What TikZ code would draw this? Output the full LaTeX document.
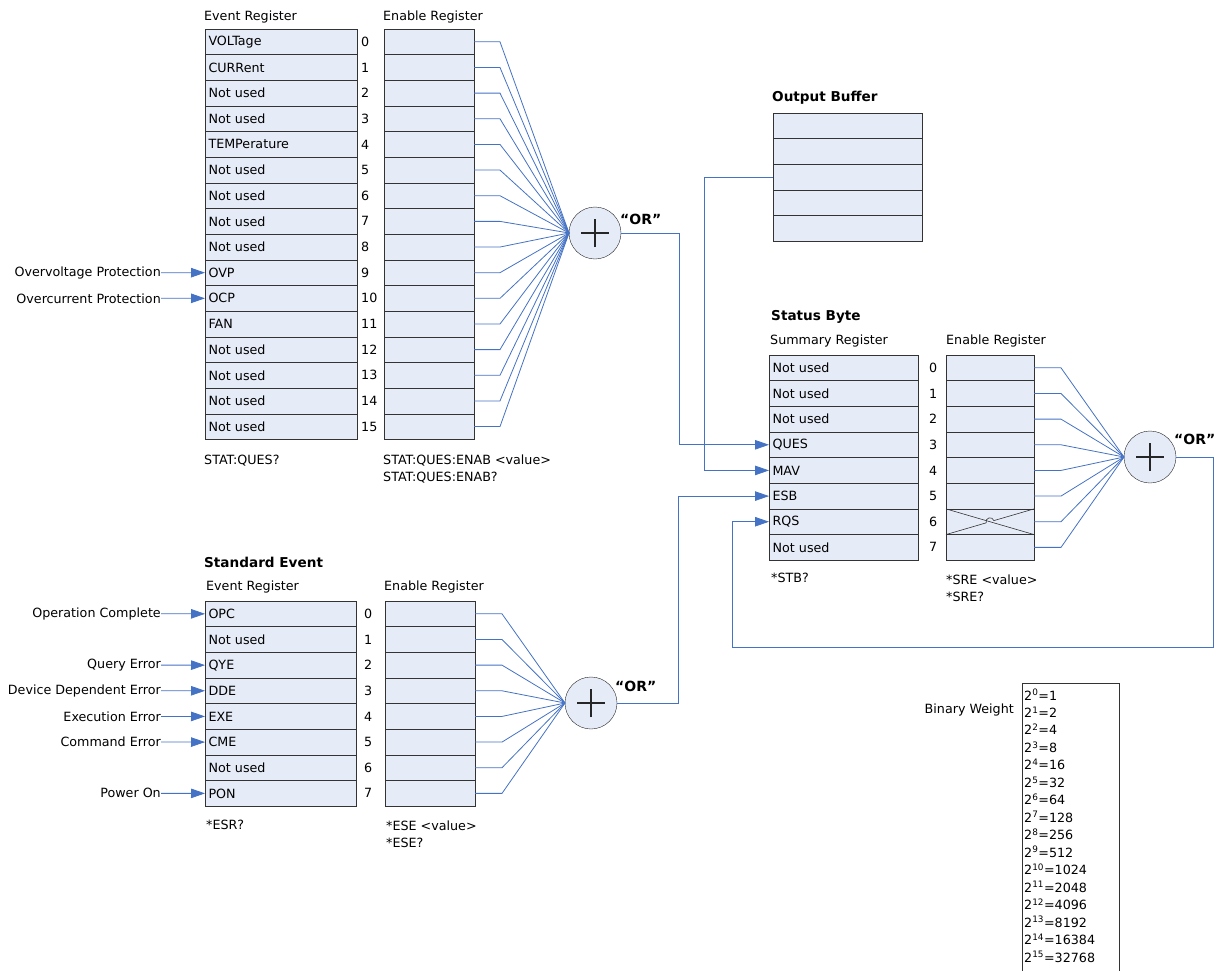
\documentclass[tikz,border=0pt]{standalone}
\usepackage{fontspec}
\setmainfont{DejaVu Sans}
\usetikzlibrary{arrows.meta,positioning,calc}

\definecolor{cellfill}{RGB}{230,236,247}
\definecolor{wireblue}{RGB}{68,114,196}

\tikzset{
    regcell/.style={draw=black!80, fill=cellfill, anchor=north west, minimum height=25.65pt,
        inner xsep=3.5pt, inner ysep=0pt, outer sep=0pt, text width=#1, align=left},
    bitnum/.style={anchor=west, inner sep=0pt},
    heading/.style={anchor=base west, inner sep=0pt},
    title/.style={anchor=base west, inner sep=0pt, font=\fontsize{13.6}{16}\selectfont\bfseries},
    inlabel/.style={anchor=east, inner sep=0pt},
    orgate/.style={circle, draw=black!85, fill=cellfill, minimum size=52pt, inner sep=0pt, outer sep=0pt,
        path picture={\draw[line width=1.9pt] (path picture bounding box.center) +(-14pt,0) -- +(14pt,0)
            +(0,-14pt) -- +(0,14pt);}},
    orlabel/.style={anchor=west, inner sep=0pt, font=\fontsize{14}{16}\selectfont\bfseries},
    wire/.style={draw=wireblue, line width=0.8pt},
    feed/.style={wire, -{Triangle[length=14pt,width=9.5pt]}},
    weight/.style={anchor=base west, inner sep=0pt},
}

\begin{document}
\begin{tikzpicture}[x=1pt, y=-1pt, font=\fontsize{12.7}{14}\selectfont]
    \useasboundingbox (0,0) rectangle (1232,970);

    % questionable status register
    \node[heading] (qevhead) at (204,20) {Event Register};
    \node[heading] (qenhead) at (383,20) {Enable Register};
    \node[orgate] (qor) at (595,233) {};
    \node[orlabel] (qorlbl) at (620,219) {“OR”};
    \foreach \lbl [count=\i from 0] in {VOLTage,CURRent,Not used,Not used,TEMPerature,Not used,Not used,Not used,
            Not used,OVP,OCP,FAN,Not used,Not used,Not used,Not used} {
        \node[regcell=145pt] (qev\i) at (205,{29+\i*25.65}) {\lbl};
        \node[bitnum] (qbit\i) at (361,{41.8+\i*25.65}) {\i};
        \node[regcell=83pt] (qen\i) at (384,{29+\i*25.65}) {};
        \draw[wire] (qen\i.east) -- ++(26,0) -- (qor.west);
    }
    \foreach \r/\txt in {9/Overvoltage Protection,10/Overcurrent Protection} {
        \node[inlabel] (qin\r) at (161,{41.8+\r*25.65}) {\txt};
        \draw[feed] (qin\r.east) -- (qev\r.west);
    }
    \node[heading] (qevcmd) at (204,464) {STAT:QUES?};
    \node[heading] (qencmd) at (383,464) {STAT:QUES:ENAB <value>};
    \node[heading] (qenqry) at (383,481) {STAT:QUES:ENAB?};

    % output buffer
    \node[title] (obhead) at (772,101) {Output Buffer};
    \foreach \i in {0,...,4} {
        \node[regcell=142pt] (ob\i) at (773,{113+\i*25.65}) {};
    }

    % status byte
    \node[title] (sbhead) at (771,320) {Status Byte};
    \node[heading] (sumhead) at (770,344) {Summary Register};
    \node[heading] (senhead) at (946,344) {Enable Register};
    \node[orgate] (sor) at (1150,457) {};
    \node[orlabel] (sorlbl) at (1174,439) {“OR”};
    \foreach \lbl [count=\i from 0] in {Not used,Not used,Not used,QUES,MAV,ESB,RQS,Not used} {
        \node[regcell=142pt] (sum\i) at (769,{355+\i*25.65}) {\lbl};
        \node[bitnum] (sbit\i) at (929,{367.8+\i*25.65}) {\i};
        \node[regcell=81pt] (sen\i) at (946,{355+\i*25.65}) {};
        \draw[wire] (sen\i.east) -- ++(27,0) -- (sor.west);
    }
    % masked bit 6
    \draw[black!80, line width=0.6pt] (sen6.north west) -- (sen6.south east);
    \draw[black!80, line width=0.6pt] (sen6.south west) -- ($(sen6.center)!4pt!(sen6.south west)$)
        arc[start angle=196.25, end angle=16.25, radius=4pt] -- (sen6.north east);
    \node[heading] (sumcmd) at (771,582) {*STB?};
    \node[heading] (sencmd) at (946,584) {*SRE <value>};
    \node[heading] (senqry) at (946,601) {*SRE?};

    % standard event register
    \node[title] (sehead) at (204,567) {Standard Event};
    \node[heading] (sevhead) at (206,590) {Event Register};
    \node[heading] (seenhead) at (384,590) {Enable Register};
    \node[orgate] (eor) at (591,703) {};
    \node[orlabel] (eorlbl) at (615,686) {“OR”};
    \foreach \lbl [count=\i from 0] in {OPC,Not used,QYE,DDE,EXE,CME,Not used,PON} {
        \node[regcell=144pt] (sev\i) at (205,{601+\i*25.65}) {\lbl};
        \node[bitnum] (ebit\i) at (364,{613.8+\i*25.65}) {\i};
        \node[regcell=83pt] (een\i) at (385,{601+\i*25.65}) {};
        \draw[wire] (een\i.east) -- ++(27,0) -- (eor.west);
    }
    \foreach \r/\txt in {0/Operation Complete,2/Query Error,3/Device Dependent Error,4/Execution Error,
            5/Command Error,7/Power On} {
        \node[inlabel] (ein\r) at (161,{613.8+\r*25.65}) {\txt};
        \draw[feed] (ein\r.east) -- (sev\r.west);
    }
    \node[heading] (sevcmd) at (206,829) {*ESR?};
    \node[heading] (eencmd) at (386,830) {*ESE <value>};
    \node[heading] (eenqry) at (386,847) {*ESE?};

    % summary feeds
    \draw[feed] (qor.east) -- ++(58,0) |- (sum3.west);
    \draw[feed] (ob2.west) -- ++(-69,0) |- (sum4.west);
    \draw[feed] (eor.east) -- ++(61,0) |- (sum5.west);
    \coordinate (rqsturn) at (732,647);
    \draw[feed] (sor.east) -- ++(37,0) |- (rqsturn) |- (sum6.west);

    % binary weight
    \node[anchor=base east, inner sep=0pt] (bwhead) at (1014,713) {Binary Weight};
    \draw[black!80, line width=0.6pt] (1022,975) |- (1119,683) -- (1119,975);
    \foreach \v [count=\i from 0] in {1,2,4,8,16,32,64,128,256,512,1024,2048,4096,8192,16384,32768} {
        \node[weight] (w\i) at (1024,{700+\i*17.47}) {2\textsuperscript{\i}=\v};
    }
\end{tikzpicture}
\end{document}
